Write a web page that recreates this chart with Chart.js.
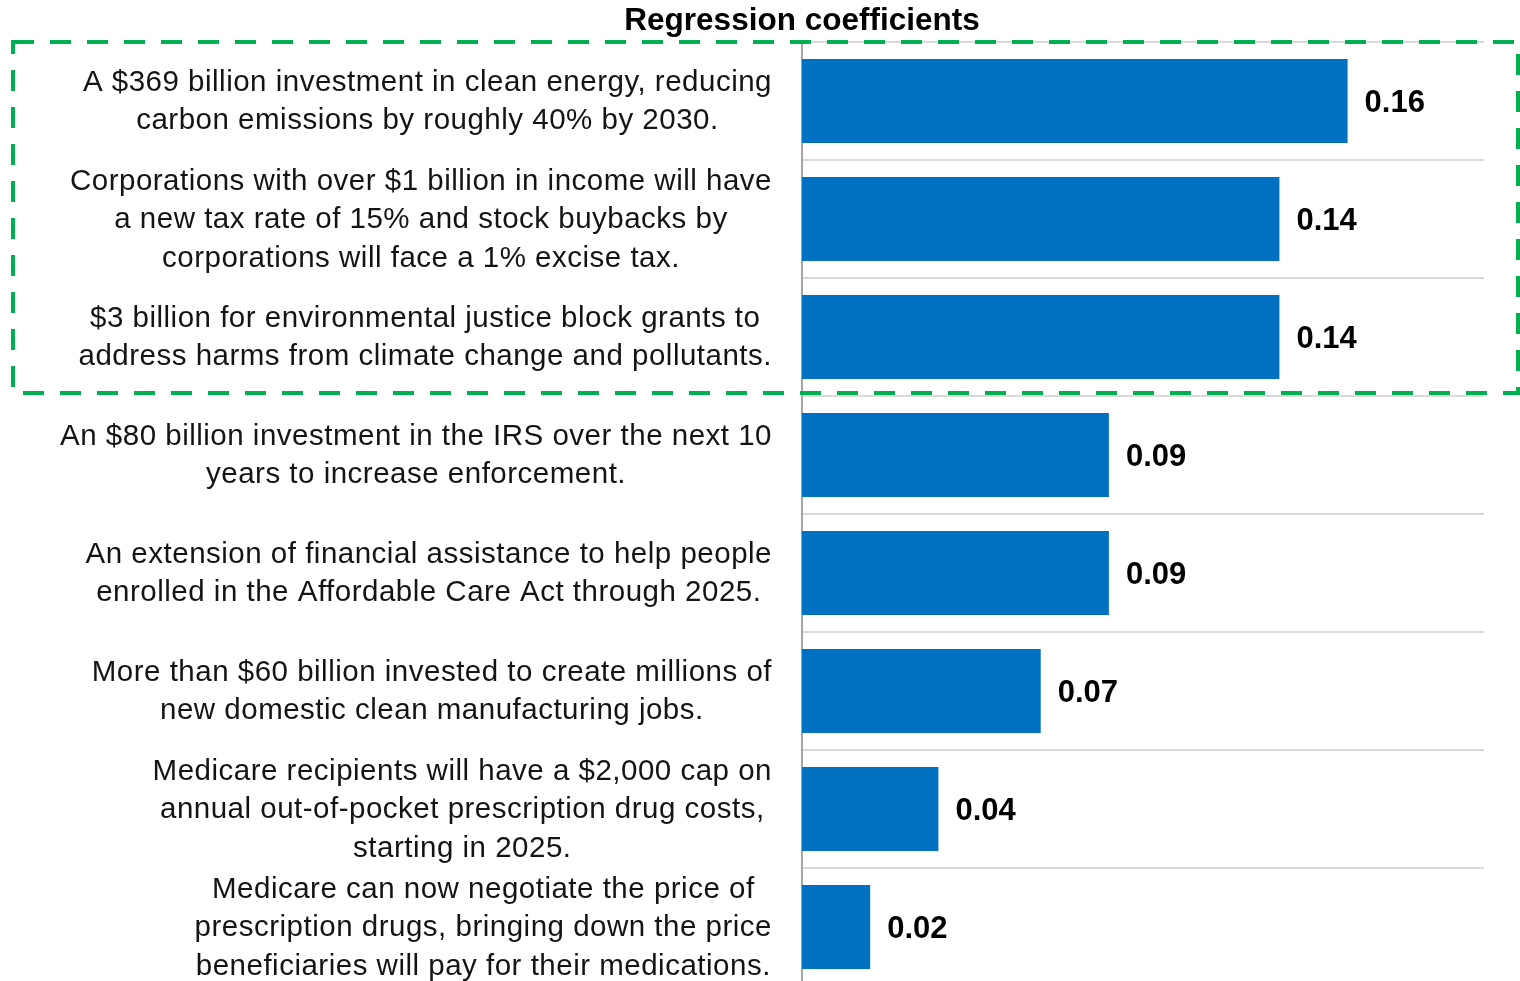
<!DOCTYPE html>
<html>
<head>
<meta charset="utf-8">
<script src="https://cdn.jsdelivr.net/npm/chart.js@4"></script>
<style>
  body { margin: 0; overflow: hidden; background: #fff; }
</style>
</head>
<body>
<canvas id="chart" width="1520" height="986"></canvas>
<script>
// data
const chartTitle = 'Regression coefficients';
const categories = [
    ['A $369 billion investment in clean energy, reducing', 'carbon emissions by roughly 40% by 2030.'],
    ['Corporations with over $1 billion in income will have', 'a new tax rate of 15% and stock buybacks by', 'corporations will face a 1% excise tax.'],
    ['$3 billion for environmental justice block grants to', 'address harms from climate change and pollutants.'],
    ['An $80 billion investment in the IRS over the next 10', 'years to increase enforcement.'],
    ['An extension of financial assistance to help people', 'enrolled in the Affordable Care Act through 2025.'],
    ['More than $60 billion invested to create millions of', 'new domestic clean manufacturing jobs.'],
    ['Medicare recipients will have a $2,000 cap on', 'annual out-of-pocket prescription drug costs,', 'starting in 2025.'],
    ['Medicare can now negotiate the price of', 'prescription drugs, bringing down the price', 'beneficiaries will pay for their medications.']
];
const coefficients = [0.16, 0.14, 0.14, 0.09, 0.09, 0.07, 0.04, 0.02];
const highlightRows = [0, 2]; // first and last row inside the dashed box

const FONT = '"Liberation Sans", Arial, sans-serif';

// draws title, wrapped category labels, value labels and the dashed box
const extrasPlugin = {
    id: 'extras',
    afterDraw(chart) {
        const ctx = chart.ctx;
        const yScale = chart.scales.y;
        ctx.save();

        // title centred on the axis line
        ctx.fillStyle = '#000';
        ctx.font = 'bold 31.5px ' + FONT;
        ctx.textAlign = 'center';
        ctx.textBaseline = 'middle';
        ctx.fillText(chartTitle, yScale.right, 21);

        // category labels: lines centred in a block that sits against the axis
        ctx.font = '29.5px ' + FONT;
        ctx.letterSpacing = '0.5px';
        ctx.fillStyle = '#141414';
        const lineH = 38.5;
        for (let i = 0; i < categories.length; i++) {
            const lines = categories[i];
            let widest = 0;
            lines.forEach(l => { widest = Math.max(widest, ctx.measureText(l).width); });
            const cx = yScale.right - 30 - widest / 2;
            const cy = yScale.getPixelForTick(i);
            for (let j = 0; j < lines.length; j++) {
                ctx.fillText(lines[j], cx, cy + 1 + (j - (lines.length - 1) / 2) * lineH);
            }
        }
        ctx.letterSpacing = '0px';

        // value labels at the bar ends
        ctx.font = 'bold 31px ' + FONT;
        ctx.fillStyle = '#000';
        ctx.textAlign = 'left';
        const meta = chart.getDatasetMeta(0);
        meta.data.forEach((bar, i) => {
            ctx.fillText(coefficients[i].toFixed(2), bar.x + 17, bar.y + 2);
        });

        // green dashed box round the highlighted rows
        const step = yScale.getPixelForTick(1) - yScale.getPixelForTick(0);
        const top = yScale.getPixelForTick(highlightRows[0]) - step / 2;
        const bottom = yScale.getPixelForTick(highlightRows[1]) + step / 2 - 3;
        ctx.strokeStyle = '#00b050';
        ctx.lineWidth = 4;
        ctx.setLineDash([21, 16]);
        ctx.strokeRect(13, top, chart.width - 15, bottom - top);
        ctx.restore();
    }
};

new Chart(document.getElementById('chart'), {
    type: 'bar',
    data: {
        labels: categories,
        datasets: [{
            data: coefficients,
            backgroundColor: '#0070c0',
            borderWidth: 0,
            categoryPercentage: 1,
            barPercentage: 0.712
        }]
    },
    options: {
        indexAxis: 'y',
        responsive: false,
        animation: false,
        layout: {
            padding: { top: 42, right: 36, left: 0, bottom: 0 }
        },
        plugins: {
            legend: { display: false },
            tooltip: { enabled: false },
            title: { display: false }
        },
        scales: {
            x: {
                display: false,
                min: 0,
                max: 0.2
            },
            y: {
                ticks: { display: false },
                grid: {
                    color: '#d9d9d9',
                    lineWidth: 2,
                    drawTicks: false
                },
                border: { color: '#a6a6a6', width: 2 },
                afterFit(scale) {
                    scale.width = 802;
                }
            }
        }
    },
    plugins: [extrasPlugin]
});
</script>
</body>
</html>
